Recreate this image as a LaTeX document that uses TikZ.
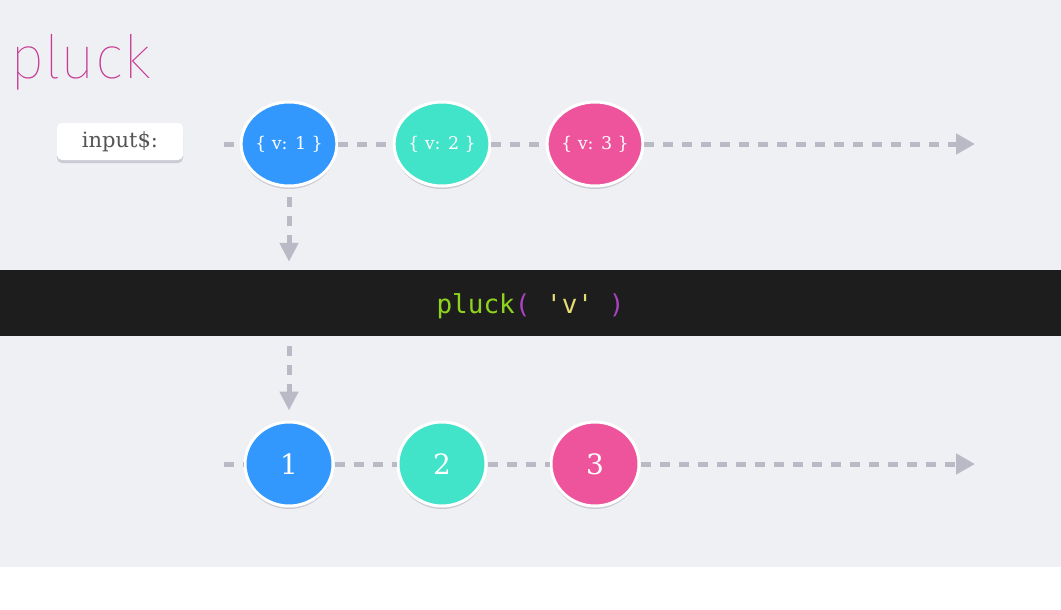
\documentclass[tikz,border=0pt]{standalone}
\usepackage{fontspec}
\usetikzlibrary{shapes.geometric,arrows.meta,shadows}
\newfontfamily\slabfont{DejaVu Serif}
\newfontfamily\codefont{DejaVu Sans Mono}
% lightest available sans weight for the title
\IfFontExistsTF{Fira Sans Thin}{\newfontfamily\titlefont{Fira Sans Thin}}{%
  \IfFontExistsTF{Fira Sans ExtraLight}{\newfontfamily\titlefont{Fira Sans ExtraLight}}{%
    \IfFontExistsTF{Fira Sans Light}{\newfontfamily\titlefont{Fira Sans Light}}{%
      \IfFontExistsTF{Lato Light}{\newfontfamily\titlefont{Lato Light}}{%
        \newfontfamily\titlefont{Fira Sans}}}}}
\definecolor{bggrey}{HTML}{EFF0F4}
\definecolor{dashgrey}{HTML}{B9BAC6}
\definecolor{shadowgrey}{HTML}{CBCBD5}
\definecolor{evblue}{HTML}{3298FE}
\definecolor{evteal}{HTML}{41E3C9}
\definecolor{evpink}{HTML}{EE549C}
\definecolor{titlepink}{HTML}{C63A93}
\definecolor{bandblack}{HTML}{1D1D1D}
\definecolor{codegreen}{HTML}{8FD41C}
\definecolor{codepurple}{HTML}{A843C2}
\definecolor{codeyellow}{HTML}{E6DB74}
\definecolor{labeltext}{HTML}{555555}
\tikzset{
  event/.style={ellipse, minimum width=88pt, minimum height=84pt, inner sep=0pt,
    draw=white, line width=3pt, text=white,
    drop shadow={shadow xshift=0pt, shadow yshift=-3pt, fill=shadowgrey, opacity=1}},
  inevent/.style={event, font=\slabfont\fontsize{17.5}{20}\selectfont},
  outevent/.style={event, font=\slabfont\fontsize{28}{32}\selectfont},
  flow/.style={draw=dashgrey, line width=5pt, dash pattern=on 10pt off 9pt},
  flowtip/.style={flow, -{Triangle[length=19pt,width=20pt]}},
}
\begin{document}
\begin{tikzpicture}[x=1pt,y=-1pt]
  % canvas
  \fill[white] (0,0) rectangle (1061,610);
  \fill[bggrey] (0,0) rectangle (1061,567);
  \useasboundingbox (0,0) rectangle (1061,610);

  % title
  \node[anchor=base west, inner sep=0pt, text=titlepink,
        font=\titlefont\fontsize{60}{64}\selectfont] (title) at (10,79) {pluck};

  % input stream label
  \node[rectangle, rounded corners=5pt, fill=white, minimum width=126pt, minimum height=37pt,
        inner sep=0pt, text=labeltext, font=\slabfont\fontsize{21}{24}\selectfont,
        drop shadow={shadow xshift=0pt, shadow yshift=-3pt, fill=shadowgrey, opacity=1}]
        (label) at (120,141.5) {input\$:};

  % operator band
  \node[rectangle, fill=bandblack, minimum width=1061pt, minimum height=66pt, inner sep=0pt,
        text height=22pt, text depth=2pt, font=\codefont\fontsize{26}{30}\selectfont]
        (band) at (530.5,303) {\textcolor{codegreen}{pluck}\textcolor{codepurple}{(}
        \textcolor{codeyellow}{'v'} \textcolor{codepurple}{)}};

  % input events
  \node[inevent, fill=evblue] (a1) at (289,144) {\{ v: 1 \}};
  \node[inevent, fill=evteal] (a2) at (442,144) {\{ v: 2 \}};
  \node[inevent, fill=evpink] (a3) at (595,144) {\{ v: 3 \}};

  % output events
  \node[outevent, fill=evblue] (b1) at (289,464) {1};
  \node[outevent, fill=evteal] (b2) at (442,464) {2};
  \node[outevent, fill=evpink] (b3) at (595,464) {3};

  % stream ends
  \coordinate (ain) at (224,144);
  \coordinate (aout) at (975,144);
  \coordinate (bin) at (224,464);
  \coordinate (bout) at (975,464);

  % input timeline
  \draw[flow] (ain) -- (a1);
  \draw[flow] (a1) -- (a2);
  \draw[flow] (a2) -- (a3);
  \draw[flowtip] (a3) -- (aout);

  % output timeline
  \draw[flow] (bin) -- (b1);
  \draw[flow] (b1) -- (b2);
  \draw[flow] (b2) -- (b3);
  \draw[flowtip] (b3) -- (bout);

  % into and out of the operator
  \draw[flow, -{Triangle[length=19pt,width=18pt]}, shorten <=9pt, shorten >=8pt]
    (a1.south) -- (a1.south |- band.north);
  \draw[flow, -{Triangle[length=19pt,width=18pt]}, shorten <=10pt, shorten >=10pt]
    (band.south -| b1) -- (b1.north);
\end{tikzpicture}
\end{document}
